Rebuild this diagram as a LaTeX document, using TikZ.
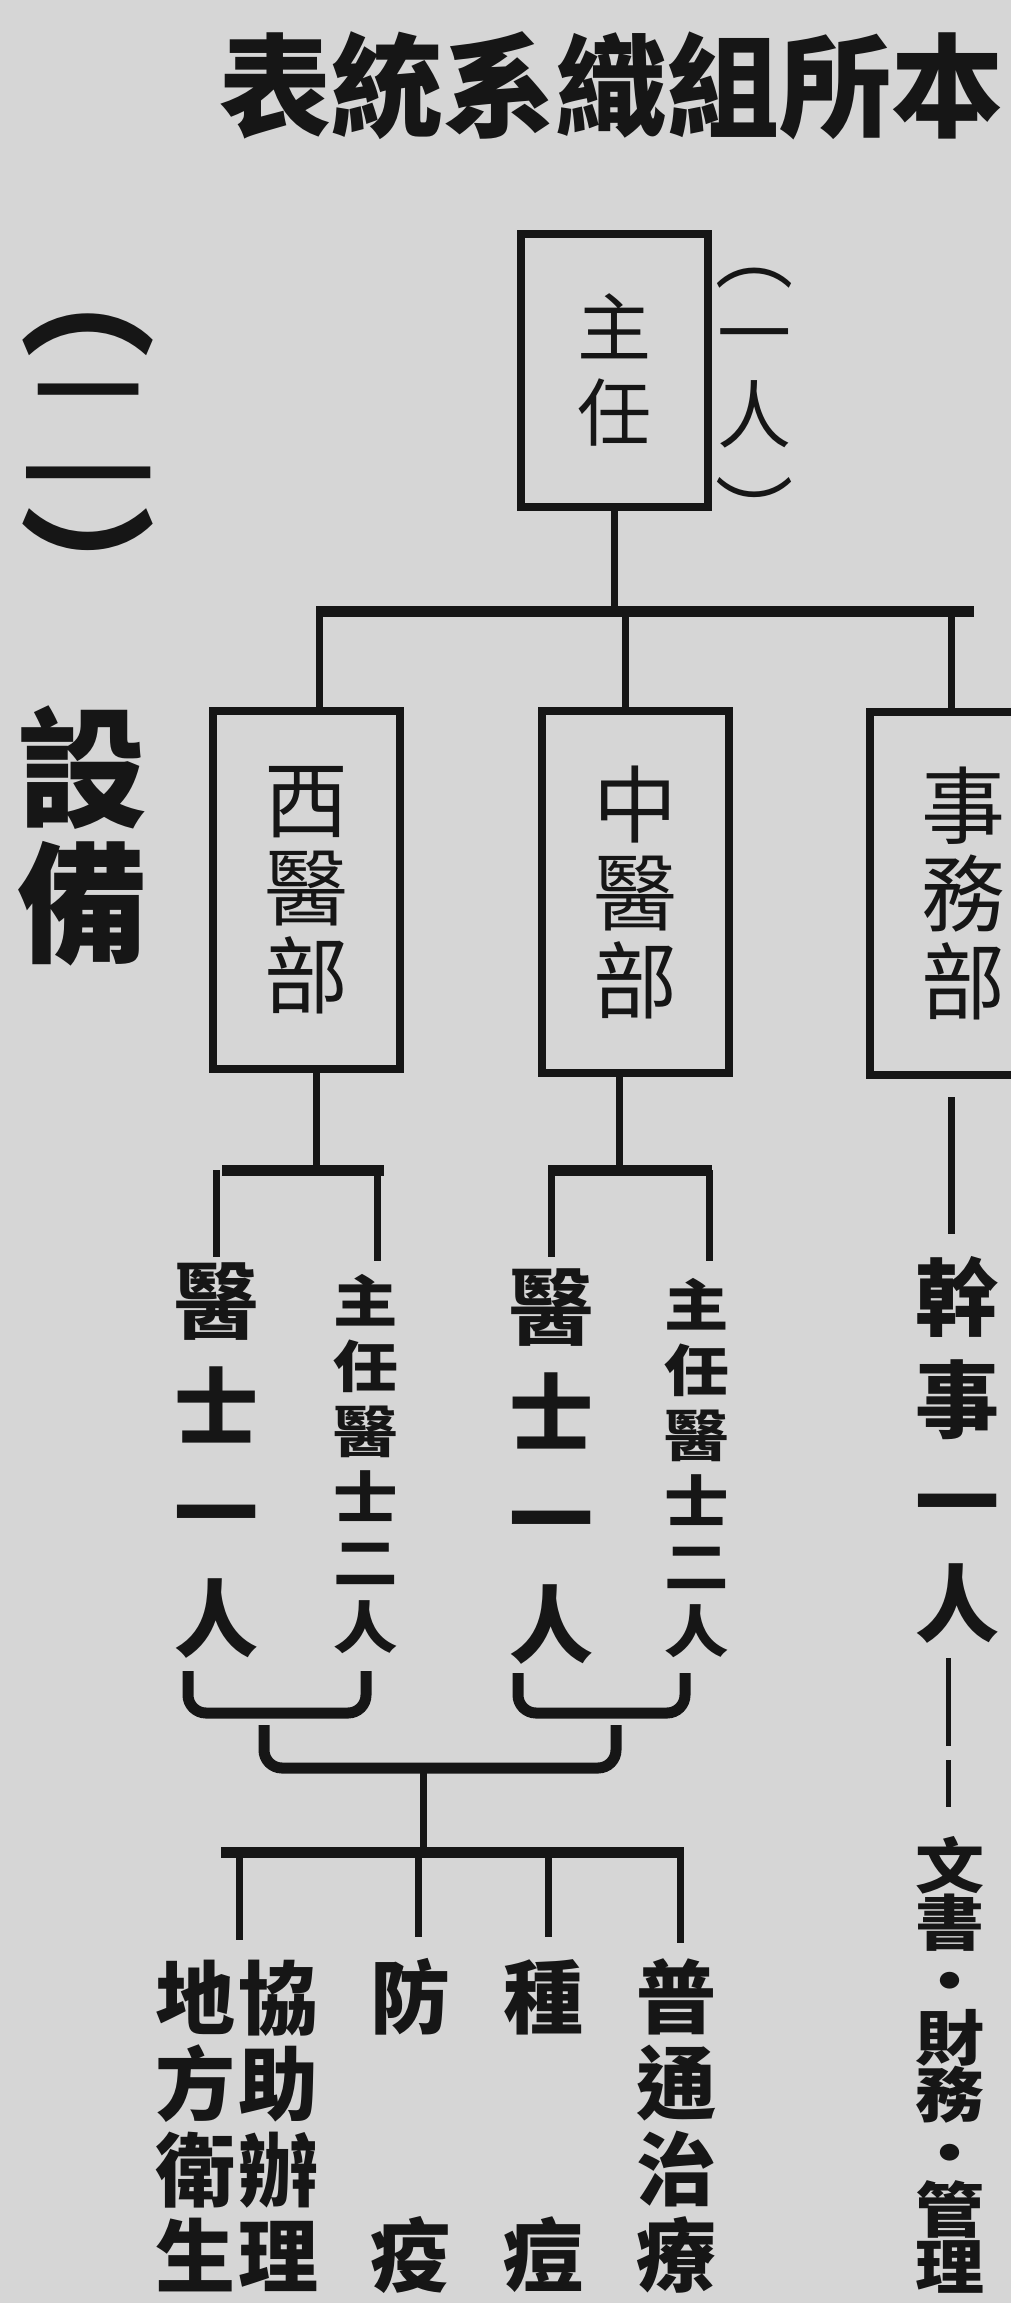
\documentclass[tikz,border=0pt]{standalone}
\usepackage{graphicx}
\usepackage{fontspec}
\newfontfamily\cjk{Noto Sans CJK TC}
\newfontfamily\cjkw{Noto Sans CJK TC}[FakeStretch=1.15]
\definecolor{paper}{RGB}{214,214,214}
\definecolor{ink}{RGB}{22,22,22}
\begin{document}
\begin{tikzpicture}[x=1pt,y=-1pt,
  every node/.style={text=ink, inner sep=0pt},
  box/.style={draw=ink, line width=8pt, align=center, minimum width=187pt},
  conn/.style={draw=ink, line width=7pt},
  bar/.style={draw=ink, line width=11pt},
  brk/.style={draw=ink, line width=11pt, rounded corners=18pt},
  thinline/.style={draw=ink, line width=5pt, dash pattern=on 88pt off 14pt},
  boxtext/.style={font=\cjk\fontsize{84}{88}\selectfont},
  bigcol/.style={align=center, font=\cjk\bfseries\fontsize{84}{106}\selectfont},
  smallcol/.style={align=center, font=\cjkw\bfseries\fontsize{56}{65.2}\selectfont},
  botcol/.style={align=center, font=\cjk\bfseries\fontsize{80}{86}\selectfont}
]
\path[use as bounding box] (0,0) rectangle (1011,2303);
\fill[paper] (0,0) rectangle (1011,2303);
\clip (0,0) rectangle (1011,2303);

% title and section heading
\node[font=\cjk\bfseries\fontsize{112}{112}\selectfont] (title) at (611,86) {表統系織組所本};
\node[font=\cjk\bfseries\fontsize{135}{135}\selectfont] (secL) at (88,335) {︵};
\node[font=\cjk\fontsize{140}{140}\selectfont] (secN) at (88,433) {二};
\node[font=\cjk\bfseries\fontsize{135}{135}\selectfont] (secR) at (88,565) {︶};
\node[align=center, font=\cjk\bfseries\fontsize{130}{135}\selectfont] (sheb) at (82,836) {設\\備};

% head
\node[box, minimum height=273pt, font=\cjk\fontsize{74}{85}\selectfont] (zhuren) at (614,370) {主\\任};
\node[font=\cjk\fontsize{78}{78}\selectfont] (oneL) at (754,278) {︵};
\node[align=center, font=\cjk\fontsize{74}{82}\selectfont] (one) at (754,388) {一\\人};
\node[font=\cjk\fontsize{78}{78}\selectfont] (oneR) at (754,510) {︶};

% departments
\node[box, minimum height=358pt, boxtext] (xiyi) at (306.5,890) {西\\醫\\部};
\node[box, minimum height=362pt, boxtext] (zhongyi) at (635.5,892) {中\\醫\\部};
\node[box, minimum height=363pt, boxtext] (shiwu) at (963,893.5) {事\\務\\部};

% top connectors
\coordinate (tbL) at (316,611);
\coordinate (tbR) at (974,611);
\coordinate (d1) at (319,611);
\coordinate (d2) at (625,611);
\coordinate (d3) at (951,611);
\draw[conn] (zhuren.south) -- (zhuren.south |- tbL);
\draw[bar] (tbL) -- (tbR);
\draw[conn] (d1) -- (d1 |- xiyi.north);
\draw[conn] (d2) -- (d2 |- zhongyi.north);
\draw[conn] (d3) -- (d3 |- shiwu.north);

% staff columns
\node[bigcol] (c1) at (216,1461) {醫\\士\\一\\人};
\node[smallcol] (c2) at (366,1464) {主\\任\\醫\\士\\二\\人};
\node[bigcol] (c3) at (551,1467) {醫\\士\\一\\人};
\node[smallcol] (c4) at (697,1468) {主\\任\\醫\\士\\二\\人};
\node[bigcol, font=\cjk\bfseries\fontsize{84}{102}\selectfont] (gan) at (957,1450) {幹\\事\\一\\人};
\node[align=center, font=\cjkw\bfseries\fontsize{60}{57.3}\selectfont] (wenshu) at (950,2065) {文\\書\\・\\財\\務\\・\\管\\理};

% west branch
\coordinate (w0) at (316,1170);
\coordinate (wL) at (222,1170);
\coordinate (wR) at (384,1170);
\coordinate (w1) at (216,1170);
\coordinate (w2) at (377,1170);
\draw[conn] (w0 |- xiyi.south) -- (w0);
\draw[bar] (wL) -- (wR);
\draw[conn] (w1) -- (w1 |- 0,1257);
\draw[conn] (w2) -- (w2 |- 0,1261);

% middle branch
\coordinate (m0) at (619,1170);
\coordinate (mL) at (548,1170);
\coordinate (mR) at (712,1170);
\coordinate (m1) at (551,1170);
\coordinate (m2) at (709,1170);
\draw[conn] (m0 |- zhongyi.south) -- (m0);
\draw[bar] (mL) -- (mR);
\draw[conn] (m1) -- (m1 |- 0,1257);
\draw[conn] (m2) -- (m2 |- 0,1261);

% admin branch
\coordinate (s0) at (951,1097);
\draw[conn] (s0) -- (s0 |- 0,1234);
\coordinate (s1) at (948,1658);
\draw[thinline] (s1) -- (s1 |- 0,1807);

% brackets
\coordinate (k1L) at (188,1671);
\coordinate (k1R) at (366,1671);
\coordinate (k2L) at (518,1673);
\coordinate (k2R) at (685,1673);
\coordinate (kbL) at (264,1725);
\coordinate (kbR) at (616,1725);
\draw[brk] (k1L) -- (k1L |- 0,1713) -- (k1R |- 0,1713) -- (k1R);
\draw[brk] (k2L) -- (k2L |- 0,1713) -- (k2R |- 0,1713) -- (k2R);
\draw[brk] (kbL) -- (kbL |- 0,1768) -- (kbR |- 0,1768) -- (kbR);

% bottom distribution
\coordinate (st) at (423,1770);
\coordinate (bb) at (423,1852);
\coordinate (bbL) at (221,1852);
\coordinate (bbR) at (684,1852);
\draw[conn] (st) -- (bb);
\draw[bar] (bbL) -- (bbR);
\coordinate (e1) at (239,1852);
\coordinate (e2) at (418,1852);
\coordinate (e3) at (548,1852);
\coordinate (e4) at (680,1852);
\draw[conn] (e1) -- (e1 |- 0,1940);
\draw[conn] (e2) -- (e2 |- 0,1937);
\draw[conn] (e3) -- (e3 |- 0,1937);
\draw[conn] (e4) -- (e4 |- 0,1943);

% duties
\node[botcol] (xie) at (278,2126) {協\\助\\辦\\理};
\node[botcol] (di) at (195,2126) {地\\方\\衛\\生};
\node[botcol] (fang) at (410,2126) {防\\\mbox{}\\\mbox{}\\疫};
\node[botcol] (zhong) at (543,2126) {種\\\mbox{}\\\mbox{}\\痘};
\node[botcol] (pu) at (676,2126) {普\\通\\治\\療};
\end{tikzpicture}
\end{document}
